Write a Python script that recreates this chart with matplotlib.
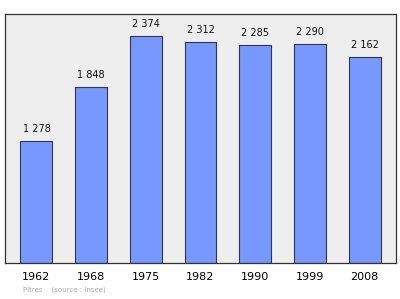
import matplotlib
matplotlib.use("Agg")
import matplotlib.pyplot as plt
import numpy as np

# donnees
years = ["1962", "1968", "1975", "1982", "1990", "1999", "2008"]
population = [1278, 1848, 2374, 2312, 2285, 2290, 2162]
value_labels = ["1 278", "1 848", "2 374", "2 312", "2 285", "2 290", "2 162"]

fig = plt.figure(figsize=(4.0, 2.99), dpi=100)
ax = fig.add_axes([0.0125, 0.12, 0.9775, 0.833])
ax.set_facecolor("#eeeeee")

x = np.arange(len(years))
ax.bar(x, population, width=0.585, color="#7799ff", edgecolor="#333355", linewidth=0.8)

for xi, v, lab in zip(x, population, value_labels):
    ax.annotate(lab, (xi, v), xytext=(0, 5), textcoords="offset points",
                ha="center", va="bottom", fontsize=7, color="#111111")

ax.set_xlim(-0.575, len(years) - 1 + 0.575)
ax.set_ylim(0, 2608)
ax.set_xticks(x)
ax.set_xticklabels(years, fontsize=8)
ax.set_yticks([])
ax.tick_params(axis="x", length=0, pad=6.5)
for s in ax.spines.values():
    s.set_color("#333333")
    s.set_linewidth(0.9)

fig.text(0.057, 0.023, "Pîtres    (source : Insee)", fontsize=5, color="#aaaaaa")

fig.savefig("out.png", dpi=100)
